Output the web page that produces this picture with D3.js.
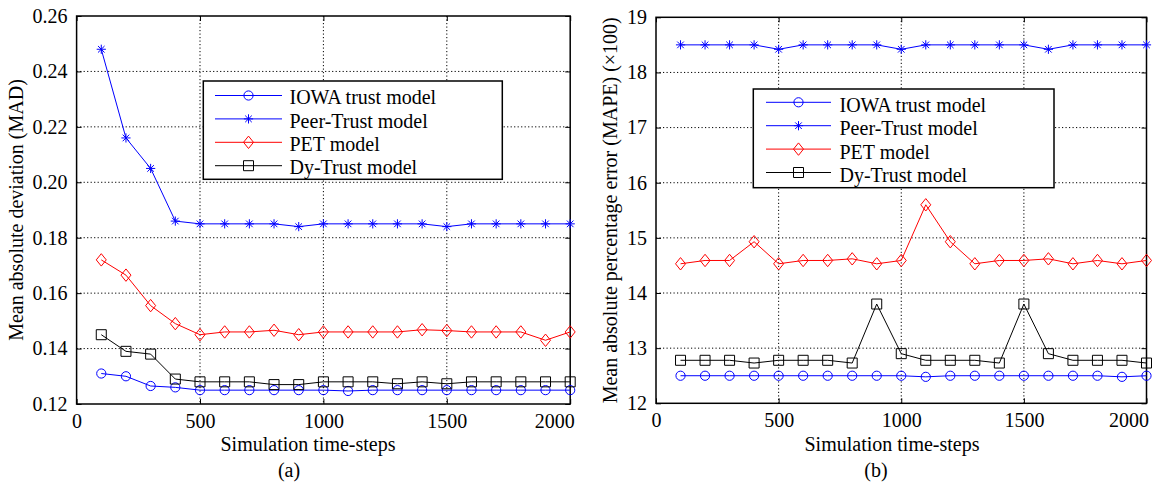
<!DOCTYPE html>
<html>
<head>
<meta charset="utf-8">
<script src="https://cdn.jsdelivr.net/npm/d3@7"></script>
<style>
  html, body { margin: 0; padding: 0; background: #fff; }
  svg { display: block; }
</style>
</head>
<body>
<div id="chart"></div>
<script>
/* Two panels: MAD (a) and MAPE (b) vs simulation time-steps, four trust models */
var steps = [100, 200, 300, 400, 500, 600, 700, 800, 900, 1000,
             1100, 1200, 1300, 1400, 1500, 1600, 1700, 1800, 1900, 2000];
var seriesNames = ['IOWA trust model', 'Peer-Trust model', 'PET model', 'Dy-Trust model'];

/* panel (a): mean absolute deviation */
var madIowa = [0.131, 0.130, 0.1265, 0.126, 0.125, 0.125, 0.125, 0.125, 0.125, 0.125,
               0.1247, 0.125, 0.125, 0.125, 0.125, 0.125, 0.125, 0.125, 0.125, 0.125];
var madPeer = [0.248, 0.216, 0.205, 0.186, 0.185, 0.185, 0.185, 0.185, 0.184, 0.185,
               0.185, 0.185, 0.185, 0.185, 0.184, 0.185, 0.185, 0.185, 0.185, 0.185];
var madPet  = [0.172, 0.1665, 0.1555, 0.149, 0.145, 0.146, 0.146, 0.1466, 0.145, 0.146,
               0.146, 0.146, 0.146, 0.1468, 0.1465, 0.146, 0.146, 0.146, 0.143, 0.146];
var madDy   = [0.145, 0.139, 0.138, 0.129, 0.128, 0.128, 0.128, 0.127, 0.127, 0.128,
               0.128, 0.128, 0.1273, 0.128, 0.1273, 0.128, 0.128, 0.128, 0.128, 0.128];

/* panel (b): mean absolute percentage error (x100) */
var mapeIowa = [12.5, 12.5, 12.5, 12.5, 12.5, 12.5, 12.5, 12.5, 12.5, 12.5,
                12.48, 12.5, 12.5, 12.5, 12.5, 12.5, 12.5, 12.5, 12.48, 12.5];
var mapePeer = [18.5, 18.5, 18.5, 18.5, 18.42, 18.5, 18.5, 18.5, 18.5, 18.42,
                18.5, 18.5, 18.5, 18.5, 18.5, 18.42, 18.5, 18.5, 18.5, 18.5];
var mapePet  = [14.53, 14.59, 14.59, 14.93, 14.53, 14.59, 14.59, 14.62, 14.53, 14.59,
                15.6, 14.93, 14.53, 14.59, 14.59, 14.62, 14.53, 14.59, 14.53, 14.59];
var mapeDy   = [12.78, 12.78, 12.78, 12.73, 12.78, 12.78, 12.78, 12.73, 13.8, 12.9,
                12.78, 12.78, 12.78, 12.73, 13.8, 12.9, 12.78, 12.78, 12.78, 12.73];

var xTickVals = [0, 500, 1000, 1500, 2000];
var madTicks = [0.12, 0.14, 0.16, 0.18, 0.20, 0.22, 0.24, 0.26];
var mapeTicks = [12, 13, 14, 15, 16, 17, 18, 19];

(function () {
  'use strict';

  var W = 1157, H = 487;
  var FONT = 20;
  var FAMILY = '"Liberation Serif", "Times New Roman", serif';
  var colors = ['#0000ff', '#0000ff', '#ff0000', '#000000'];
  var markers = ['circle', 'star', 'diamond', 'square'];

  var svg = d3.select('#chart').append('svg')
    .attr('width', W).attr('height', H)
    .style('font-family', FAMILY);

  function styleText(sel) {
    return sel.style('font-family', FAMILY).style('font-size', FONT + 'px').style('fill', '#000');
  }

  /* marker path generator, centred at 0,0 */
  function markerPath(type) {
    if (type === 'circle') {
      var r = 4.6;
      return 'M' + (-r) + ',0A' + r + ',' + r + ' 0 1,0 ' + r + ',0A' + r + ',' + r + ' 0 1,0 ' + (-r) + ',0Z';
    }
    if (type === 'diamond') return 'M0,-6.2L5,0L0,6.2L-5,0Z';
    if (type === 'square') return 'M-5,-5H5V5H-5Z';
    /* asterisk: plus and cross */
    var s = 4.6, d = 3.3;
    return 'M0,' + (-s) + 'V' + s + 'M' + (-s) + ',0H' + s +
      'M' + (-d) + ',' + (-d) + 'L' + d + ',' + d + 'M' + (-d) + ',' + d + 'L' + d + ',' + (-d);
  }

  function drawMarker(g, type, color, x, y) {
    g.append('path')
      .attr('d', markerPath(type))
      .attr('transform', 'translate(' + x + ',' + y + ')')
      .attr('fill', 'none')
      .attr('stroke', color)
      .attr('stroke-width', 1);
  }

  function panel(opt) {
    var x = d3.scaleLinear().domain([0, 2000]).range([opt.left, opt.right]);
    var y = d3.scaleLinear().domain(opt.yDomain).range([opt.bottom, opt.top]);
    var g = svg.append('g');

    /* dotted grid */
    g.selectAll('line.gx').data(xTickVals.slice(1, -1)).enter().append('line')
      .attr('x1', function (d) { return x(d); }).attr('x2', function (d) { return x(d); })
      .attr('y1', opt.top).attr('y2', opt.bottom)
      .attr('stroke', '#000').attr('stroke-width', 1).attr('stroke-dasharray', '1.2,2.3');
    g.selectAll('line.gy').data(opt.yTicks.slice(1, -1)).enter().append('line')
      .attr('y1', function (d) { return y(d); }).attr('y2', function (d) { return y(d); })
      .attr('x1', opt.left).attr('x2', opt.right)
      .attr('stroke', '#000').attr('stroke-width', 1).attr('stroke-dasharray', '1.2,2.3');

    /* axes via d3 with inward ticks */
    g.append('g').attr('transform', 'translate(0,' + opt.bottom + ')')
      .call(d3.axisBottom(x).tickValues(xTickVals).tickSizeInner(-5).tickSizeOuter(0).tickPadding(10)
        .tickFormat(d3.format('d')))
      .call(function (a) {
        a.select('.domain').remove();
        styleText(a.selectAll('text'));
        a.selectAll('.tick').filter(function (d) { return d === 2000; }).select('text')
          .attr('text-anchor', 'end').attr('dx', opt.lastDx);
      });
    g.append('g').attr('transform', 'translate(0,' + opt.top + ')')
      .call(d3.axisTop(x).tickValues(xTickVals).tickSizeInner(-5).tickSizeOuter(0).tickFormat(''))
      .call(function (a) { a.select('.domain').remove(); });
    g.append('g').attr('transform', 'translate(' + opt.left + ',0)')
      .call(d3.axisLeft(y).tickValues(opt.yTicks).tickSizeInner(-5).tickSizeOuter(0).tickPadding(9)
        .tickFormat(opt.yFormat))
      .call(function (a) {
        a.select('.domain').remove();
        styleText(a.selectAll('text'));
      });
    g.append('g').attr('transform', 'translate(' + opt.right + ',0)')
      .call(d3.axisRight(y).tickValues(opt.yTicks).tickSizeInner(-5).tickSizeOuter(0).tickFormat(''))
      .call(function (a) { a.select('.domain').remove(); });

    g.append('rect')
      .attr('x', opt.left).attr('y', opt.top)
      .attr('width', opt.right - opt.left).attr('height', opt.bottom - opt.top)
      .attr('fill', 'none').attr('stroke', '#000').attr('stroke-width', 1.5);

    /* series */
    var line = d3.line()
      .x(function (d) { return x(d[0]); })
      .y(function (d) { return y(d[1]); });
    opt.series.forEach(function (vals, i) {
      var pts = steps.map(function (s, k) { return [s, vals[k]]; });
      g.append('path').datum(pts)
        .attr('d', line)
        .attr('fill', 'none').attr('stroke', colors[i]).attr('stroke-width', 1);
      pts.forEach(function (p) { drawMarker(g, markers[i], colors[i], x(p[0]), y(p[1])); });
    });

    /* legend */
    var L = opt.legend;
    var lg = g.append('g');
    lg.append('rect')
      .attr('x', L.x0).attr('y', L.y0).attr('width', L.x1 - L.x0).attr('height', L.y1 - L.y0)
      .attr('fill', '#fff').attr('stroke', '#000').attr('stroke-width', 1.5);
    seriesNames.forEach(function (name, i) {
      var yy = L.rowY + i * L.rowStep;
      lg.append('line')
        .attr('x1', L.lineX0).attr('x2', L.lineX1).attr('y1', yy).attr('y2', yy)
        .attr('stroke', colors[i]).attr('stroke-width', 1);
      drawMarker(lg, markers[i], colors[i], (L.lineX0 + L.lineX1) / 2, yy);
      styleText(lg.append('text')
        .attr('x', L.textX).attr('y', yy + L.textDy))
        .text(name);
    });

    /* labels */
    styleText(g.append('text')
      .attr('x', opt.xLabelX).attr('y', 451)
      .attr('text-anchor', 'middle'))
      .text('Simulation time-steps');
    styleText(g.append('text')
      .attr('x', opt.capX).attr('y', 477)
      .attr('text-anchor', 'middle'))
      .text(opt.caption);
    styleText(g.append('text')
      .attr('transform', 'translate(' + opt.yLabelX + ',' + ((opt.top + opt.bottom) / 2) + ') rotate(-90)')
      .attr('text-anchor', 'middle'))
      .text(opt.yLabel);
  }

  panel({
    left: 76.6, right: 570.2, top: 16, bottom: 404,
    yDomain: [0.12, 0.26], yTicks: madTicks, yFormat: d3.format('.2f'),
    series: [madIowa, madPeer, madPet, madDy],
    lastDx: 4,
    legend: { x0: 203.3, x1: 502.3, y0: 81, y1: 179.3, lineX0: 215, lineX1: 282,
              rowY: 95.5, rowStep: 23.4, textX: 289.5, textDy: 8.6 },
    xLabelX: 308, capX: 289, caption: '(a)',
    yLabelX: 23, yLabel: 'Mean absolute deviation (MAD)'
  });

  panel({
    left: 656, right: 1146.5, top: 17.3, bottom: 403.3,
    yDomain: [12, 19], yTicks: mapeTicks, yFormat: d3.format('d'),
    series: [mapeIowa, mapePeer, mapePet, mapeDy],
    lastDx: 2,
    legend: { x0: 753.3, x1: 1054, y0: 89, y1: 187.7, lineX0: 766, lineX1: 831,
              rowY: 102.3, rowStep: 23.4, textX: 839.5, textDy: 9.5 },
    xLabelX: 892, capX: 876, caption: '(b)',
    yLabelX: 617, yLabel: 'Mean absolute percentage error (MAPE) (\u00d7100)'
  });
})();
</script>
</body>
</html>
